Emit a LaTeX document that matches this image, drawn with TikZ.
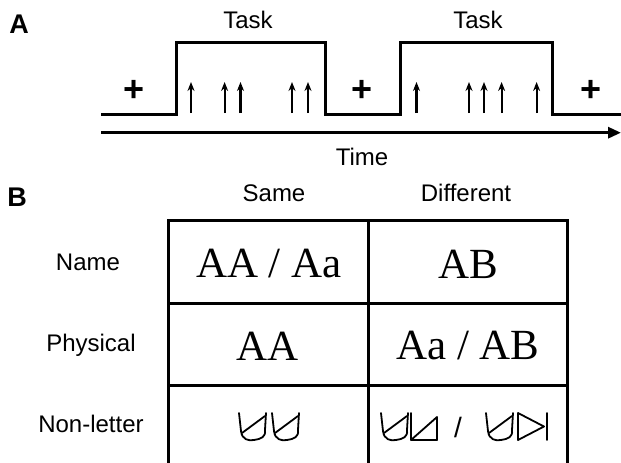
\documentclass[tikz,border=0pt]{standalone}
\usepackage{fontspec}
\setmainfont{Liberation Sans}
\newfontfamily\serifcell{Liberation Serif}
\usetikzlibrary{arrows.meta}
\begin{document}
\begin{tikzpicture}[x=1pt,y=-1pt,
  lbl/.style={font=\fontsize{24}{26}\selectfont, inner sep=0pt},
  panel/.style={font=\bfseries\fontsize{27}{29}\selectfont, inner sep=0pt},
  plus/.style={font=\bfseries\fontsize{36}{38}\selectfont, inner sep=0pt},
  cell/.style={font=\serifcell\fontsize{43}{45}\selectfont, inner sep=0pt},
  sig/.style={line width=3pt},
  ev/.style={line width=2.2pt, -{Stealth[length=9pt,width=7pt]}},
  grid/.style={line width=3pt},
  gl/.style={line width=1.8pt, line cap=round, line join=round},
  pics/ua/.style={code={
    \draw[gl] (0,0) -- (2,18) .. controls (3,27) and (10,28) .. (15,27)
      .. controls (22,26) and (27,24) .. (26,17) -- (27,0);
    \draw[gl] (3,20) -- (26,3);
  }},
  pics/tri/.style={code={
    \draw[gl] (0,0) -- (0,27) -- (26,27);
    \draw[gl] (0,27) -- (26,4) -- (26,27);
  }},
  pics/play/.style={code={
    \draw[gl] (0,0) -- (0,27) -- (26,13.5) -- cycle;
    \draw[gl] (29,0) -- (29,27);
  }}
]
\useasboundingbox (0,0) rectangle (621,463);
% Panel A
\node[panel] (pa) at (19,24) {A};
\node[lbl] (task1) at (248,20) {Task};
\node[lbl] (task2) at (478,20) {Task};
\draw[sig] (101,114.3) -- (176,114.3) -- (176,42.5) -- (325,42.5) -- (325,114.3)
  -- (400,114.3) -- (400,42.5) -- (552,42.5) -- (552,114.3) -- (621,114.3);
\coordinate (t0) at (101,132.7);
\coordinate (t1) at (621,132.7);
\draw[line width=3pt, -{Triangle[length=13pt,width=11pt]}] (t0) -- (t1);
\node[lbl] (time) at (362,157) {Time};
\node[plus] (p1) at (134,91) {+};
\node[plus] (p2) at (362,91) {+};
\node[plus] (p3) at (591,91) {+};
\foreach \x [count=\i] in {191,224.6,240.5,292,308,416.5,469,484,501.6,536.6}{
  \coordinate (eb\i) at (\x,113);
  \coordinate (et\i) at (\x,82);
  \draw[ev] (eb\i) -- (et\i);
}
% Panel B
\node[panel] (pb) at (17,197) {B};
\node[lbl] (same) at (274,193) {Same};
\node[lbl] (diff) at (466,193) {Different};
\node[lbl] (rname) at (88,262) {Name};
\node[lbl] (rphys) at (91,345) {Physical};
\node[lbl] (rnon) at (91,424) {Non-letter};
\draw[grid] (168,463) -- (168,220) -- (567,220) -- (567,463);
\draw[grid] (368,220) -- (368,463);
\draw[grid] (168,303) -- (567,303);
\draw[grid] (168,385) -- (567,385);
\node[cell] (c11) at (269,264) {AA / Aa};
\node[cell] (c12) at (468,264) {AB};
\node[cell] (c21) at (268,346) {AA};
\node[cell] (c22) at (468,346) {Aa / AB};
\pic at (239,413) {ua};
\pic at (272,413) {ua};
\pic at (381,413) {ua};
\pic at (411,413) {tri};
\node[cell, font=\fontsize{28}{30}\selectfont] (slash) at (458,427) {/};
\pic at (486,413) {ua};
\pic at (518,413) {play};
\end{tikzpicture}
\end{document}
